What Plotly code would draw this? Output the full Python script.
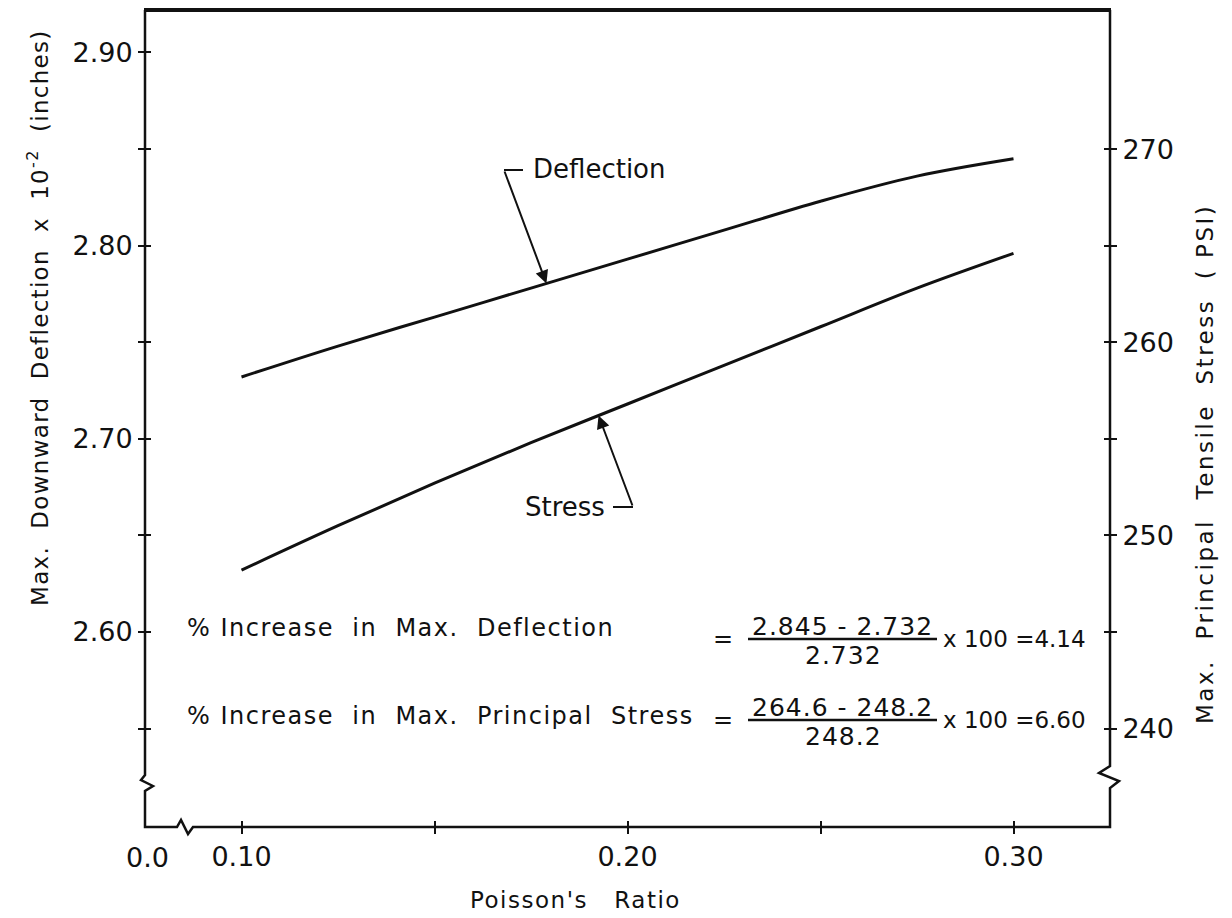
import numpy as np
import plotly.graph_objects as go

# Poisson's ratio sweep and computed responses
poisson = [0.10, 0.125, 0.15, 0.175, 0.20, 0.225, 0.25, 0.275, 0.30]
deflection = [2.732, 2.748, 2.763, 2.778, 2.793, 2.808, 2.823, 2.836, 2.845]   # x 10^-2 in
stress = [248.2, 250.5, 252.7, 254.8, 256.8, 258.8, 260.8, 262.8, 264.6]        # psi

x_ticks = [0.10, 0.15, 0.20, 0.25, 0.30]
x_ticktext = ["0.10", "", "0.20", "", "0.30"]
y_ticks = [2.55, 2.60, 2.65, 2.70, 2.75, 2.80, 2.85, 2.90]
y_ticktext = ["", "2.60", "", "2.70", "", "2.80", "", "2.90"]
y2_ticks = [240, 245, 250, 255, 260, 265, 270]
y2_ticktext = ["240", "", "250", "", "260", "", "270"]

defl_increase = ("2.845 - 2.732", "2.732", "4.14")
stress_increase = ("264.6 - 248.2", "248.2", "6.60")

# figure geometry (pixels)
W, H = 1232, 918
L, R, T, B = 145, 1110, 10, 827
X_RANGE = [0.075, 0.325]
Y_RANGE = [2.499, 2.922]
Y2_RANGE = [240 + (Y_RANGE[0] - 2.55) * 100, 240 + (Y_RANGE[1] - 2.55) * 100]

FONT = "DejaVu Sans, Verdana, sans-serif"
INK = "#111111"


def px(xp):
    return (xp - L) / (R - L)


def py(yp):
    return (B - yp) / (B - T)


def data_to_px(xv, yv, rng):
    xp = L + (xv - X_RANGE[0]) / (X_RANGE[1] - X_RANGE[0]) * (R - L)
    yp = B - (yv - rng[0]) / (rng[1] - rng[0]) * (B - T)
    return xp, yp


def spaced(s, ls):
    return f'<span style="letter-spacing:{ls}px">{s}</span>' if ls else s


fig = go.Figure()
fig.add_trace(go.Scatter(x=poisson, y=deflection, mode="lines", line=dict(color=INK, width=3, shape="spline"),
                         xaxis="x", yaxis="y", showlegend=False, hoverinfo="skip"))
fig.add_trace(go.Scatter(x=poisson, y=stress, mode="lines", line=dict(color=INK, width=3, shape="spline"),
                         xaxis="x", yaxis="y2", showlegend=False, hoverinfo="skip"))
# single-point (hence invisible) traces that carry the inward half of the crossing tick marks
for xa, ya, yy in [("x2", "y", deflection), ("x", "y3", deflection), ("x", "y4", stress)]:
    fig.add_trace(go.Scatter(x=poisson[:1], y=yy[:1], mode="lines", line=dict(width=0),
                             xaxis=xa, yaxis=ya, showlegend=False, hoverinfo="skip"))

tick_font = dict(family=FONT, size=27, color=INK)
common = dict(showgrid=False, zeroline=False, showline=False, tickcolor=INK, tickwidth=2, ticklen=6,
              tickmode="array", tickfont=tick_font)

fig.update_layout(
    width=W, height=H,
    margin=dict(l=L, r=W - R, t=T, b=H - B, pad=0),
    paper_bgcolor="white", plot_bgcolor="white",
    xaxis=dict(range=X_RANGE, tickvals=x_ticks, ticktext=x_ticktext, ticks="outside", **common),
    xaxis2=dict(range=X_RANGE, tickvals=x_ticks, ticks="inside", overlaying="x", side="bottom",
                showticklabels=False, **common),
    yaxis=dict(range=Y_RANGE, tickvals=y_ticks, ticktext=y_ticktext, ticks="outside", **common),
    yaxis2=dict(range=Y2_RANGE, tickvals=y2_ticks, ticktext=y2_ticktext, ticks="outside",
                overlaying="y", side="right", **common),
    yaxis3=dict(range=Y_RANGE, tickvals=y_ticks, ticks="inside", overlaying="y", side="left",
                showticklabels=False, **common),
    yaxis4=dict(range=Y2_RANGE, tickvals=y2_ticks, ticks="inside", overlaying="y", side="right",
                showticklabels=False, **common),
)

# frame with broken-axis zigzags
frame = [
    (L, T), (L, 775), (L - 4, 780), (L + 8, 786), (L, 791), (L, B),
    (177, B), (181, 820), (188, 834), (193, B),
    (R, B), (R, 788), (R + 9, 781), (R - 11, 773), (R, 766), (R, T),
]
path = "M " + " L ".join(f"{px(a):.5f},{py(b):.5f}" for a, b in frame)
shapes = [
    dict(type="path", path=path, xref="paper", yref="paper", line=dict(color=INK, width=2.5)),
    dict(type="line", xref="paper", yref="paper", x0=px(L - 1), x1=px(R + 1), y0=py(T), y1=py(T),
         line=dict(color=INK, width=4)),
]

annotations = []


def text(s, xp, yp, size=25, anchor="center", angle=0, ls=0):
    annotations.append(dict(text=spaced(s, ls), x=px(xp), y=py(yp), xref="paper", yref="paper",
                            showarrow=False, xanchor=anchor, yanchor="middle", textangle=angle,
                            font=dict(family=FONT, size=size, color=INK)))


# axis titles
text("Max.  Downward  Deflection  x  10<sup>-2</sup>  (inches)", 38, 318, size=23, angle=-90, ls=1.3)
text("Max.  Principal  Tensile  Stress  ( PSI)", 1205, 464, size=23, angle=-90, ls=2.5)
text("Poisson's   Ratio", 575, 900, size=23, ls=1.5)
text("0.0", 147, 857, size=27)

# percentage-increase worked equations
rows = [(628, 639, "% Increase  in  Max.  Deflection"),
        (716, 720, "% Increase  in  Max.  Principal  Stress")]
for (ylab, yeq, label), (num, den, result) in zip(rows, [defl_increase, stress_increase]):
    text(label, 185, ylab, size=24, anchor="left", ls=1.5)
    text("=", 723, yeq, size=24)
    text(num, 842, yeq - 13, size=25, ls=1)
    text(den, 843, yeq + 16, size=25, ls=1)
    text("x 100 =" + result, 941, yeq, size=23, anchor="left")
    shapes.append(dict(type="line", xref="paper", yref="paper", x0=px(748), x1=px(937),
                       y0=py(yeq), y1=py(yeq), line=dict(color=INK, width=2.5)))

# curve call-outs with leader arrows
callouts = [
    ("Deflection", 0.179, deflection, Y_RANGE, (531, 169), (504, 170), (523, 170)),
    ("Stress", 0.1925, stress, Y2_RANGE, (523, 507), (633, 507), (613, 507)),
]
for label, xv, series, rng, (tx, ty), tail, hook in callouts:
    text(label, tx, ty, size=26, anchor="left")
    yv = float(np.interp(xv, poisson, series))
    tipx, tipy = data_to_px(xv, yv, rng)
    annotations.append(dict(x=px(tipx), y=py(tipy), xref="paper", yref="paper", text="",
                            showarrow=True, ax=tail[0] - tipx, ay=tail[1] - tipy,
                            arrowhead=2, arrowsize=1.3, arrowwidth=2, arrowcolor=INK))
    shapes.append(dict(type="line", xref="paper", yref="paper", x0=px(tail[0]), x1=px(hook[0]),
                       y0=py(tail[1]), y1=py(hook[1]), line=dict(color=INK, width=2)))

fig.update_layout(shapes=shapes, annotations=annotations)
fig.write_html("out.html")
